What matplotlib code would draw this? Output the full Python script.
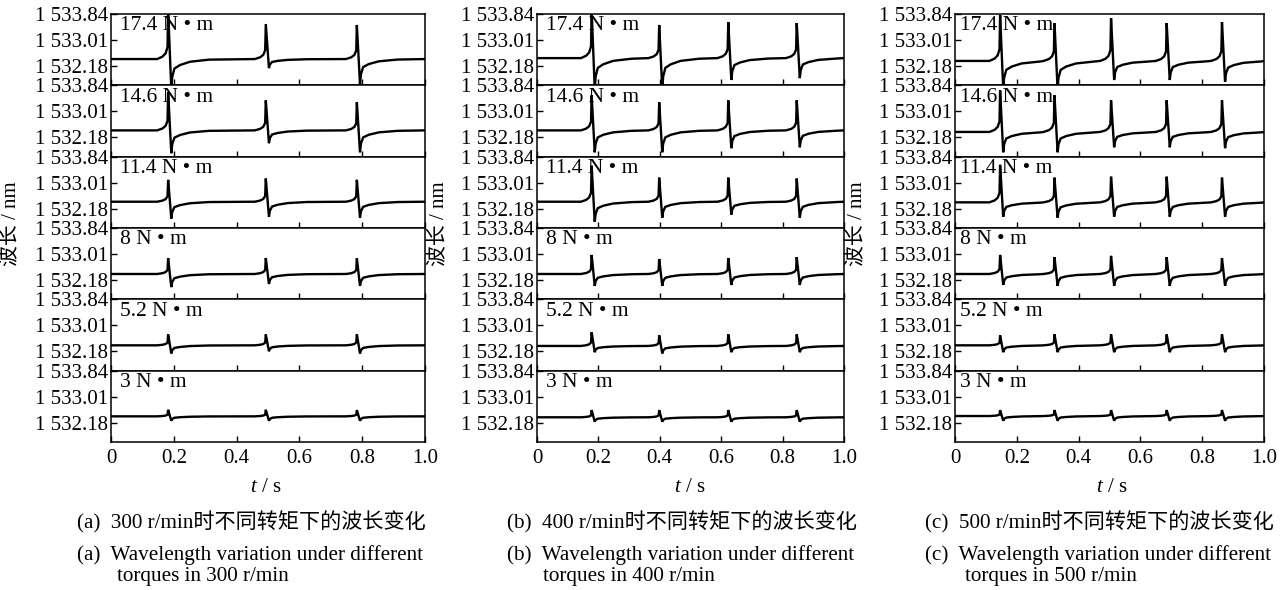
import matplotlib
matplotlib.use("Agg")
import matplotlib.pyplot as plt
import numpy as np

plt.rcParams['font.family'] = ['Liberation Serif', 'Noto Sans CJK SC']
plt.rcParams['mathtext.fontset'] = 'custom'
plt.rcParams['mathtext.rm'] = 'Liberation Serif'
plt.rcParams['mathtext.it'] = 'Liberation Serif:italic'

# ---------------- data ----------------
torque_labels = ['17.4 N • m', '14.6 N • m', '11.4 N • m', '8 N • m', '5.2 N • m', '3 N • m']
ytick_values = [1533.84, 1533.01, 1532.18]
ytick_labels = ['1 533.84', '1 533.01', '1 532.18']
xtick_values = [0, 0.2, 0.4, 0.6, 0.8, 1.0]
xtick_labels = ['0', '0.2', '0.4', '0.6', '0.8', '1.0']
y_limits = (1531.56, 1533.84)

# 300 r/min
spikes_300 = [0.182, 0.493, 0.783]
base_300 = [1532.40, 1532.40, 1532.40, 1532.37, 1532.37, 1532.38]
peaks_300 = [[1533.95, 1533.52, 1533.49],
             [1533.62, 1533.36, 1533.30],
             [1533.10, 1533.14, 1533.10],
             [1532.88, 1532.88, 1532.87],
             [1532.72, 1532.72, 1532.72],
             [1532.59, 1532.59, 1532.58]]
troughs_300 = [[1531.45, 1532.11, 1531.60],
               [1531.67, 1531.99, 1531.70],
               [1531.86, 1531.92, 1531.89],
               [1531.95, 1532.05, 1531.99],
               [1532.11, 1532.18, 1532.11],
               [1532.24, 1532.24, 1532.24]]

# 400 r/min
spikes_400 = [0.178, 0.398, 0.623, 0.846]
base_400 = [1532.43, 1532.40, 1532.40, 1532.37, 1532.35, 1532.35]
peaks_400 = [[1533.95, 1533.49, 1533.58, 1533.55],
             [1533.52, 1533.30, 1533.36, 1533.36],
             [1533.55, 1533.17, 1533.17, 1533.14],
             [1532.98, 1532.85, 1532.88, 1532.91],
             [1532.79, 1532.69, 1532.72, 1532.72],
             [1532.58, 1532.58, 1532.58, 1532.58]]
troughs_400 = [[1531.45, 1531.45, 1531.73, 1531.79],
               [1531.70, 1531.70, 1531.83, 1531.86],
               [1531.76, 1531.89, 1531.99, 1531.89],
               [1531.99, 1531.99, 1532.02, 1532.02],
               [1532.15, 1532.11, 1532.15, 1532.15],
               [1532.21, 1532.21, 1532.21, 1532.21]]

# 500 r/min
spikes_500 = [0.146, 0.322, 0.505, 0.685, 0.864]
base_500 = [1532.34, 1532.35, 1532.38, 1532.37, 1532.37, 1532.39]
peaks_500 = [[1533.81, 1533.55, 1533.71, 1533.55, 1533.58],
             [1533.68, 1533.52, 1533.36, 1533.36, 1533.36],
             [1533.58, 1533.17, 1533.20, 1533.20, 1533.17],
             [1532.98, 1532.91, 1532.95, 1532.91, 1532.88],
             [1532.69, 1532.72, 1532.72, 1532.72, 1532.72],
             [1532.58, 1532.58, 1532.58, 1532.58, 1532.58]]
troughs_500 = [[1531.45, 1531.45, 1531.73, 1531.73, 1531.67],
               [1531.70, 1531.70, 1531.86, 1531.86, 1531.83],
               [1531.92, 1531.89, 1531.92, 1531.92, 1531.92],
               [1532.02, 1531.99, 1531.99, 1531.99, 1531.99],
               [1532.15, 1532.15, 1532.15, 1532.15, 1532.15],
               [1532.24, 1532.24, 1532.24, 1532.24, 1532.24]]

# pulse shape read from one event: time offset from spike, fraction of peak (+) / trough (-)
pulse_dt = [-0.035, -0.018, -0.008, -0.002, 0.0, 0.010, 0.013, 0.020, 0.038, 0.070, 0.130]
pulse_frac = [0.0, 0.05, 0.12, 0.25, 1.0, -1.0, -0.6, -0.32, -0.2, -0.09, -0.02]

captions_cn = ['(a)  300 r/min时不同转矩下的波长变化',
               '(b)  400 r/min时不同转矩下的波长变化',
               '(c)  500 r/min时不同转矩下的波长变化']
captions_en1 = ['(a)  Wavelength variation under different',
                '(b)  Wavelength variation under different',
                '(c)  Wavelength variation under different']
captions_en2 = ['torques in 300 r/min', 'torques in 400 r/min', 'torques in 500 r/min']

columns = [(spikes_300, base_300, peaks_300, troughs_300),
           (spikes_400, base_400, peaks_400, troughs_400),
           (spikes_500, base_500, peaks_500, troughs_500)]

# ---------------- layout ----------------
W, H = 1288, 590
fig = plt.figure(figsize=(W / 100, H / 100), dpi=100)
col_px = [(111, 425), (537, 844), (955, 1264)]
top_px, bot_px = 14, 442
row_h = (bot_px - top_px) / 6
ylab_x = [12, 440, 858]
xlab_x = [266, 690, 1112]
cap_x = [77, 507, 925]
cap_x2 = [117, 543, 965]
lab_off = [9, 9, 5]

FS = 15


def trace(spikes, base, peaks, troughs):
    xs, ys = [0.0], [base]
    for ts, pk, tr in zip(spikes, peaks, troughs):
        for dt, f in zip(pulse_dt, pulse_frac):
            xs.append(ts + dt)
            if f >= 0:
                ys.append(base + f * (pk - base))
            else:
                ys.append(base + (-f) * (tr - base))
    xs.append(1.0)
    ys.append(base)
    return xs, ys


for c, (spikes, bases, peaks, troughs) in enumerate(columns):
    x0, x1 = col_px[c]
    for r in range(6):
        top = top_px + r * row_h
        ax = fig.add_axes([x0 / W, 1 - (top + row_h) / H, (x1 - x0) / W, row_h / H])
        xs, ys = trace(spikes, bases[r], peaks[r], troughs[r])
        ax.plot(xs, ys, color='black', lw=1.7, solid_joinstyle='miter')
        ax.set_xlim(0, 1.0)
        ax.set_ylim(*y_limits)
        ax.set_yticks(ytick_values)
        ax.set_yticklabels(ytick_labels, fontsize=FS)
        ax.set_xticks(xtick_values)
        if r == 5:
            ax.set_xticklabels(xtick_labels, fontsize=FS)
        else:
            ax.set_xticklabels([])
        ax.tick_params(direction='in', length=4.5, width=1, pad=2, top=False, right=False)
        ax.tick_params(axis='x', pad=5)
        for s in ax.spines.values():
            s.set_linewidth(1.1)
        ax.text(lab_off[c] / (x1 - x0), 1.0 - 2.5 / row_h, torque_labels[r],
                transform=ax.transAxes, ha='left', va='top', fontsize=15.5)

    fig.text(xlab_x[c] / W, 1 - 487 / H, '$t$ / s', ha='center', va='center', fontsize=FS)
    fig.text(ylab_x[c] / W, 1 - 224 / H, '波长 / nm', rotation=90,
             ha='center', va='center', fontsize=FS)
    fig.text(cap_x[c] / W, 1 - 522 / H, captions_cn[c], ha='left', va='center', fontsize=15.2)
    fig.text(cap_x[c] / W, 1 - 555 / H, captions_en1[c], ha='left', va='center', fontsize=15.2)
    fig.text(cap_x2[c] / W, 1 - 577 / H, captions_en2[c], ha='left', va='center', fontsize=15.2)

fig.savefig('out.png', dpi=100)
